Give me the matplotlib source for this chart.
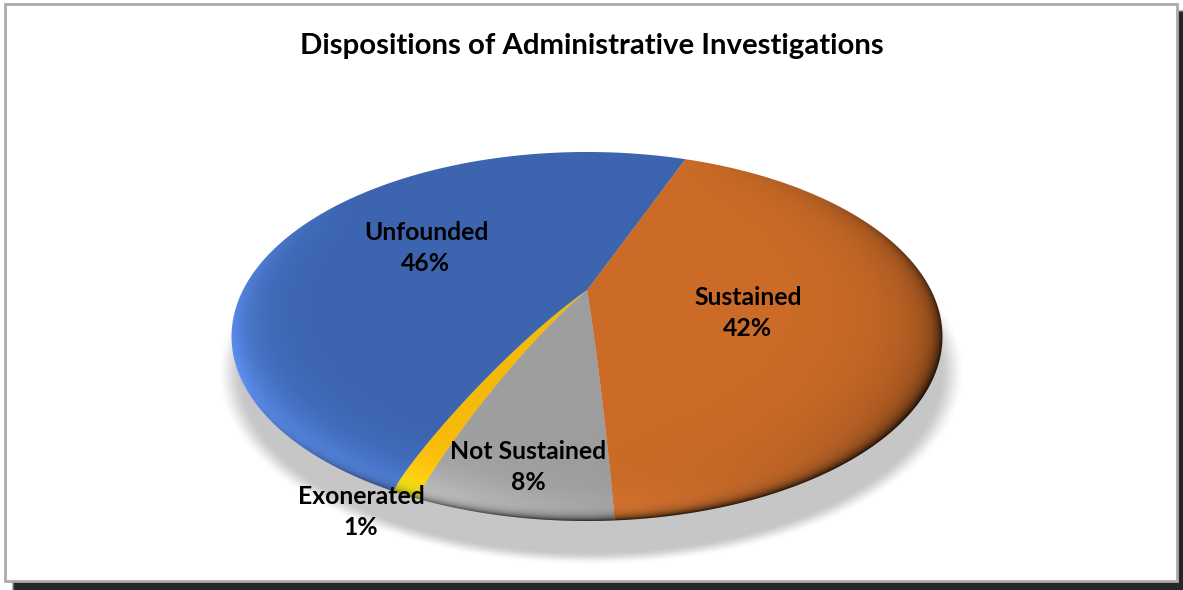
import numpy as np
from matplotlib import pyplot as plt
from matplotlib.patches import Polygon, Rectangle

title = 'Dispositions of Administrative Investigations'
categories = ['Sustained', 'Not Sustained', 'Exonerated', 'Unfounded']
percents = [42, 8, 1, 46]
# slice sizes as measured on the picture, they do not follow the printed labels exactly
slice_sizes = [43.3, 7.1, 1.0, 48.6]
colors = [(205, 108, 40), (158, 158, 158), (245, 185, 10), (60, 100, 175)]
label_pos = [(748, 313), (528, 467), (361, 512), (426, 248)]

W, H = 1183, 590
# tilted disc: apex in pixels and perspective terms
cx, cy = 587, 290
a, b, k = 344.0, 172.8, 0.252
dome = 17.0

fig = plt.figure(figsize=(W / 100, H / 100), dpi=100)
ax = fig.add_axes([0, 0, 1, 1])
extent = (0, W, H, 0)


def project(u, v):
    w = 1 + k * v
    r = np.clip(np.hypot(u, v), 0, 1)
    # bulge only on the lower half, so the lower spokes bend like the original
    side = np.clip(0.5 - v / np.maximum(r, 1e-6), 0, 1)
    bulge = dome * side * r * (1 - r) ** 0.6 / 0.347
    return cx + a * u / w, cy - b * v / w - bulge


def soft(dist, width):
    t = np.clip(dist / width, 0, 1)
    return t * t * (3 - 2 * t)


yy, xx = np.mgrid[0:H, 0:W] + 0.5
p = (cy - yy) / b
vv = p / (1 - k * p)
uu = (xx - cx) * (1 + k * vv) / a
rr = np.hypot(uu, vv)
nx, ny = uu / np.maximum(rr, 1e-6), vv / np.maximum(rr, 1e-6)
edge = np.clip(1 - rr, 0, 1)

# frame and its shadow
box = np.minimum.reduce([xx - 11, yy - 9, W + 6 - xx, H + 6 - yy])
frame_shadow = np.dstack([np.full_like(xx, 0.15)] * 3 + [soft(box, 4)])
ax.imshow(frame_shadow, extent=extent, aspect='auto', zorder=1)
ax.add_patch(Rectangle((5, 4), 1172, 577, fc='white', ec='#ababab', lw=2, zorder=2))

# shadow under the disc
rho = np.hypot((xx - 591) / 374, (yy - 372) / 193)
disc_shadow = np.dstack([np.full_like(xx, 0.78)] * 3 + [soft(1 - rho, 0.07)])
ax.imshow(disc_shadow, extent=extent, aspect='auto', zorder=3)

# bevel light and dark terms
light = np.exp(-edge / 0.06) * np.clip(-0.6 * nx - 0.8 * ny, 0, 1) * 0.3
broad = np.exp(-edge / 0.12) * np.clip(0.9 * nx - 0.3 * ny, 0, 1) * 0.32
rim = np.exp(-edge / 0.016) * np.clip(0.55 * nx - 0.85 * ny + 0.1, 0, 1) * 0.85

# the pie sets the slice angles, then each slice is laid on the tilted disc
pie_ax = fig.add_axes([0, 0, 0.1, 0.1])
wedges, _ = pie_ax.pie(slice_sizes, startangle=69.3, counterclock=False)
pie_ax.set_visible(False)

for wedge, color in zip(wedges, colors):
    th = np.radians(np.linspace(wedge.theta1, wedge.theta2, 200))
    spoke = np.linspace(0, 1, 60)
    us = np.r_[spoke * np.cos(th[0]), np.cos(th), spoke[::-1] * np.cos(th[-1])]
    vs = np.r_[spoke * np.sin(th[0]), np.sin(th), spoke[::-1] * np.sin(th[-1])]
    px, py = project(us, vs)
    shape = Polygon(np.c_[px, py], closed=True, fc='none', ec='none', transform=ax.transData)
    ax.add_patch(shape)
    img = np.array(color)[None, None, :] / 255.0 * np.ones((H, W, 3))
    img = np.clip(img * (1 + 1.1 * light[..., None]) + 0.25 * light[..., None], 0, 1)
    img = img * (1 - broad[..., None]) * (1 - rim[..., None])
    im = ax.imshow(img, extent=extent, aspect='auto', zorder=4)
    im.set_clip_path(shape)

font = dict(family='Lato', weight='bold', color='black', ha='center', va='center', zorder=6)
ax.text(591.5, 46, title, fontsize=21.2, **font)
for name, pct, (x, y) in zip(categories, percents, label_pos):
    ax.text(x, y, f'{name}\n{pct}%', fontsize=17.8, linespacing=1.4, **font)

ax.set_xlim(0, W)
ax.set_ylim(H, 0)
ax.axis('off')
plt.savefig('out.png', dpi=100)
